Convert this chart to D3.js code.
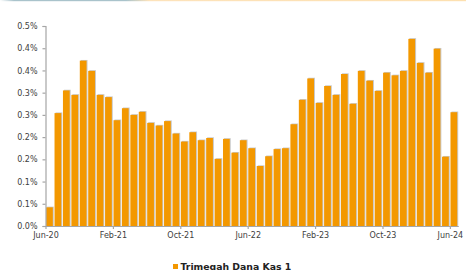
<!DOCTYPE html>
<html>
<head>
<meta charset="utf-8">
<script src="https://cdn.jsdelivr.net/npm/d3@7"></script>
<style>
  body { margin: 0; background: #fff; }
  svg { display: block; }
</style>
</head>
<body>
<div id="chart"></div>
<script>
var width = 466;
var height = 270;

// monthly values, in percent
var months = [
  "Jun-20","Jul-20","Aug-20","Sep-20","Oct-20","Nov-20","Dec-20",
  "Jan-21","Feb-21","Mar-21","Apr-21","May-21","Jun-21","Jul-21","Aug-21","Sep-21","Oct-21","Nov-21","Dec-21",
  "Jan-22","Feb-22","Mar-22","Apr-22","May-22","Jun-22","Jul-22","Aug-22","Sep-22","Oct-22","Nov-22","Dec-22",
  "Jan-23","Feb-23","Mar-23","Apr-23","May-23","Jun-23","Jul-23","Aug-23","Sep-23","Oct-23","Nov-23","Dec-23",
  "Jan-24","Feb-24","Mar-24","Apr-24","May-24","Jun-24"
];
var values = [
  0.042, 0.254, 0.305, 0.295, 0.372, 0.349, 0.295, 0.290, 0.238, 0.265,
  0.250, 0.257, 0.232, 0.226, 0.236, 0.208, 0.190, 0.211, 0.193, 0.198,
  0.151, 0.196, 0.165, 0.193, 0.175, 0.135, 0.157, 0.173, 0.175, 0.229,
  0.284, 0.332, 0.277, 0.315, 0.295, 0.342, 0.275, 0.349, 0.327, 0.304,
  0.345, 0.339, 0.349, 0.421, 0.367, 0.345, 0.399, 0.156, 0.256
];
var seriesName = "Trimegah Dana Kas 1";
var xTickLabels = ["Jun-20","Feb-21","Oct-21","Jun-22","Feb-23","Oct-23","Jun-24"];
var yTicks = [0, 0.05, 0.10, 0.15, 0.20, 0.25, 0.30, 0.35, 0.40, 0.45];
var yTickLabels = ["0.0%","0.1%","0.1%","0.2%","0.2%","0.3%","0.3%","0.4%","0.4%","0.5%"];

var plotLeft = 45.5, plotRight = 458.3, plotTop = 26, plotBottom = 226;
var barColor = "#f39800";
var axisColor = "#a6a6a6";
var textColor = "#404040";

var svg = d3.select("#chart")
  .append("svg")
  .attr("width", width)
  .attr("height", height);

// thin coloured strip along the top edge
var grad = svg.append("defs").append("linearGradient")
  .attr("id", "strip");
grad.append("stop").attr("offset", "0%").attr("stop-color", "#fff");
grad.append("stop").attr("offset", "3%").attr("stop-color", "#a9c3cb");
grad.append("stop").attr("offset", "27%").attr("stop-color", "#a9c3cb");
grad.append("stop").attr("offset", "32%").attr("stop-color", "#fde3bb");
grad.append("stop").attr("offset", "100%").attr("stop-color", "#fde0b0");
svg.append("rect")
  .attr("x", 0).attr("y", 0)
  .attr("width", width).attr("height", 1.2)
  .attr("fill", "url(#strip)");

var x = d3.scaleBand()
  .domain(months)
  .range([plotLeft, plotRight])
  .paddingInner(0);

var xi = d3.scaleLinear()
  .domain([0, months.length])
  .range([plotLeft, plotRight]);

var y = d3.scaleLinear()
  .domain([0, 0.45])
  .range([plotBottom, plotTop]);

var bw = x.bandwidth();

// bar shadows
svg.append("g")
  .selectAll("rect")
  .data(values)
  .enter()
  .append("rect")
  .attr("x", function(d, i) { return x(months[i]) + 1.6; })
  .attr("y", function(d) { return y(d) - 0.7; })
  .attr("width", bw * 0.8)
  .attr("height", function(d) { return plotBottom - y(d) + 0.7; })
  .attr("fill", "#c9c9c9");

// bars
svg.append("g")
  .selectAll("rect")
  .data(values)
  .enter()
  .append("rect")
  .attr("x", function(d, i) { return x(months[i]) + 0.6; })
  .attr("y", function(d) { return y(d); })
  .attr("width", bw * 0.8)
  .attr("height", function(d) { return plotBottom - y(d); })
  .attr("fill", barColor);

// y axis
svg.append("g")
  .attr("transform", "translate(" + plotLeft + ",0)")
  .call(d3.axisLeft(y)
    .tickValues(yTicks)
    .tickFormat(function(d, i) { return yTickLabels[i]; })
    .tickSize(3)
    .tickPadding(5));

// x axis
svg.append("g")
  .attr("transform", "translate(0," + plotBottom + ")")
  .call(d3.axisBottom(xi)
    .tickValues(xTickLabels.map(function(m) { return months.indexOf(m); }))
    .tickFormat(function(d) { return months[d]; })
    .tickSize(3)
    .tickSizeOuter(0)
    .tickPadding(3));

svg.selectAll(".domain, .tick line")
  .attr("stroke", axisColor)
  .attr("stroke-width", 1.2);

svg.selectAll(".tick text")
  .attr("fill", textColor)
  .attr("font-family", "DejaVu Sans, Verdana, sans-serif")
  .attr("font-size", "8px");

// legend
var legend = svg.append("g")
  .attr("transform", "translate(173,263)");
legend.append("rect")
  .attr("x", 0).attr("y", 1)
  .attr("width", 5).attr("height", 5)
  .attr("fill", barColor);
legend.append("text")
  .attr("x", 7.5)
  .attr("y", 7.3)
  .attr("fill", "#222")
  .attr("font-family", "DejaVu Sans, Verdana, sans-serif")
  .attr("font-weight", "bold")
  .attr("font-size", "9.3px")
  .text(seriesName);
</script>
</body>
</html>
